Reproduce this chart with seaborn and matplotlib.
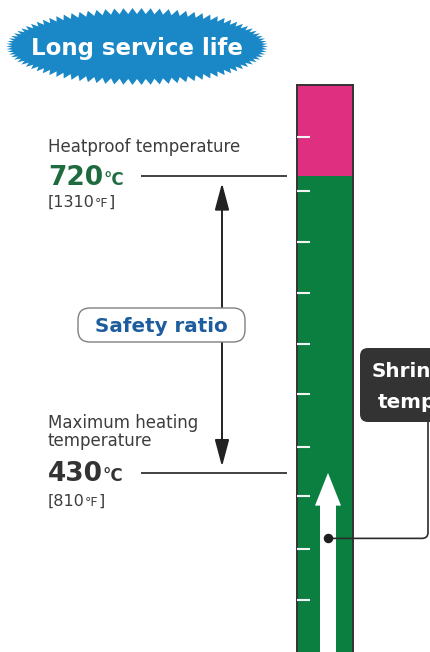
import numpy as np
import pandas as pd
import matplotlib
matplotlib.use("Agg")
import matplotlib.pyplot as plt
import seaborn as sns
from matplotlib.patches import Polygon, FancyBboxPatch
from matplotlib.transforms import Affine2D

# -------------------------------------------------------------
# values (deg C / deg F)
# -------------------------------------------------------------
heatproof_c = 720
heatproof_f = 1310
max_heat_c = 430
max_heat_f = 810
scale_top_c = 809                 # top of the thermometer bar
axis_range_c = (255, 892)         # canvas bottom / top in deg C
tick_temps_c = [758, 705, 656, 606, 556, 507, 455, 407, 356, 306]
shrink_point_c = 366              # dot where the leader line starts

# colours
PINK = "#df2f80"
GREEN = "#0a7f40"
DKGREEN = "#1f6b3f"
BLUE = "#1a88c6"
TXTBLUE = "#1d5d9e"
GRAY = "#3d3d3d"
DARK = "#2b2b2b"

W, H = 430, 652
sns.set_theme(style="white")
plt.rcParams["font.family"] = ["DejaVu Sans"]

fig = plt.figure(figsize=(W / 100, H / 100), dpi=100)
fig.patch.set_facecolor("white")
px = Affine2D().scale(1, -1).translate(0, H)  # pixel coords, origin top-left

# -------------------------------------------------------------
# thermometer bar (seaborn barplot on its own axes)
# -------------------------------------------------------------
lo, hi = axis_range_c
frac = (scale_top_c - lo) / (hi - lo)
ax_bar = fig.add_axes([297 / W, 0, 56 / W, frac])
sns.barplot(data=pd.DataFrame({"part": ["scale"], "temp": [scale_top_c]}),
            x="part", y="temp", color=PINK, width=1, saturation=1,
            linewidth=0, ax=ax_bar)
sns.barplot(data=pd.DataFrame({"part": ["scale"], "temp": [heatproof_c]}),
            x="part", y="temp", color=GREEN, width=1, saturation=1,
            linewidth=0, ax=ax_bar)
ax_bar.set_xlim(-0.5, 0.5)
ax_bar.set_ylim(lo, scale_top_c)
ax_bar.set(xlabel=None, ylabel=None, xticks=[])
ax_bar.set_yticks(tick_temps_c)
ax_bar.set_axisbelow(False)   # white ticks drawn over the bars
ax_bar.tick_params(axis="y", direction="in", length=9, width=1.5, pad=0,
                   color="#f4f4f4", left=True, right=False, labelleft=False)
for side in ["left", "right", "top"]:
    ax_bar.spines[side].set_color("#333333")
    ax_bar.spines[side].set_linewidth(1.4)
    ax_bar.spines[side].set_visible(True)
ax_bar.spines["bottom"].set_visible(False)

# -------------------------------------------------------------
# overlay axes: x in pixels, y in deg C
# -------------------------------------------------------------
ax = fig.add_axes([0, 0, 1, 1])
ax.set_facecolor("none")
ax.axis("off")
ax.set_xlim(0, W)
ax.set_ylim(lo, hi)

ax.hlines([heatproof_c, max_heat_c], 141, 287, color="#222222", lw=1.2)

# double arrow between the two temperatures
ax.annotate("", xy=(222, heatproof_c), xytext=(222, max_heat_c),
            arrowprops=dict(arrowstyle="<|-|>,head_length=1.5,head_width=0.4",
                            mutation_scale=11, color="#222222", lw=1.4,
                            shrinkA=4.5, shrinkB=5))

# white arrow inside the bar pointing at the max heating temperature
ax.arrow(328, lo, 0, max_heat_c - lo, width=16, head_width=26,
         head_length=32, length_includes_head=True,
         fc="white", ec="none", zorder=4)

# leader line to the dark box
ax.annotate("", xy=(428, 422), xycoords=px,
            xytext=(328, shrink_point_c), textcoords="data",
            arrowprops=dict(arrowstyle="-", color=DARK, lw=1.2,
                            shrinkA=0, shrinkB=0,
                            connectionstyle="angle,angleA=0,angleB=90,rad=6"),
            zorder=5)
ax.scatter([328], [shrink_point_c], s=34, color="#1e1e1e", zorder=6)


def label(s, xy, off, **kw):
    return ax.annotate(s, xy=xy, xytext=off, textcoords="offset pixels",
                       ha="left", va="baseline", **kw)


# heatproof texts
label("Heatproof temperature", (48, heatproof_c), (0, 24), size=12, color=GRAY)
n1 = label(f"{heatproof_c}", (48, heatproof_c), (0, -9), size=19,
           weight="bold", color=DKGREEN)
label("°C", (1, heatproof_c), (0, -9), xycoords=(n1, "data"), size=12,
      weight="bold", color=DKGREEN)
f1 = label(f"[{heatproof_f}", (48, heatproof_c), (0, -31), size=11.5, color=GRAY)
f1b = label("°F", (1, heatproof_c), (0, -31), xycoords=(f1, "data"),
            size=9, color=GRAY)
label("]", (1, heatproof_c), (0, -31), xycoords=(f1b, "data"),
      size=11.5, color=GRAY)

# max heating texts
label("Maximum heating", (48, max_heat_c), (0, 45), size=12, color=GRAY)
label("temperature", (48, max_heat_c), (0, 27), size=12, color=GRAY)
n2 = label(f"{max_heat_c}", (48, max_heat_c), (0, -8), size=19,
           weight="bold", color="#333333")
label("°C", (1, max_heat_c), (0, -8), xycoords=(n2, "data"), size=12,
      weight="bold", color="#333333")
f2 = label(f"[{max_heat_f}", (48, max_heat_c), (0, -33), size=11.5, color=GRAY)
f2b = label("°F", (1, max_heat_c), (0, -33), xycoords=(f2, "data"),
            size=9, color=GRAY)
label("]", (1, max_heat_c), (0, -33), xycoords=(f2b, "data"),
      size=11.5, color=GRAY)

# -------------------------------------------------------------
# decorations in pixel coordinates
# -------------------------------------------------------------
# starburst badge
n_spk = 90
th = np.linspace(0, 2 * np.pi, 2 * n_spk, endpoint=False)
outer = np.arange(2 * n_spk) % 2 == 0
ra = np.where(outer, 131, 125)
rb = np.where(outer, 38.5, 32.5)
fig.add_artist(Polygon(np.c_[137 + ra * np.cos(th), 46.5 + rb * np.sin(th)],
                       closed=True, transform=px, fc=BLUE, ec="none"))
fig.text(137, 55, "Long service life", transform=px, ha="center",
         va="baseline", color="white", size=16.5, weight="bold")

# safety ratio box
fig.add_artist(FancyBboxPatch((78, 308), 167, 34,
                              boxstyle="round,pad=0,rounding_size=12",
                              transform=px, fc="white", ec="#808080", lw=1.0))
fig.text(161.5, 332, "Safety ratio", transform=px, ha="center",
         va="baseline", color=TXTBLUE, size=14.3, weight="bold")

# dark box (cut by the right edge, as in the source)
fig.add_artist(FancyBboxPatch((360, 348), 110, 74,
                              boxstyle="round,pad=0,rounding_size=8",
                              transform=px, fc="#333333", ec="none"))
fig.text(372, 377, "Shrinkage", transform=px, ha="left", va="baseline",
         color="white", size=14.4, weight="bold")
fig.text(378, 408, "temperature", transform=px, ha="left", va="baseline",
         color="white", size=14.4, weight="bold")

fig.savefig("out.png", dpi=100, facecolor="white")
